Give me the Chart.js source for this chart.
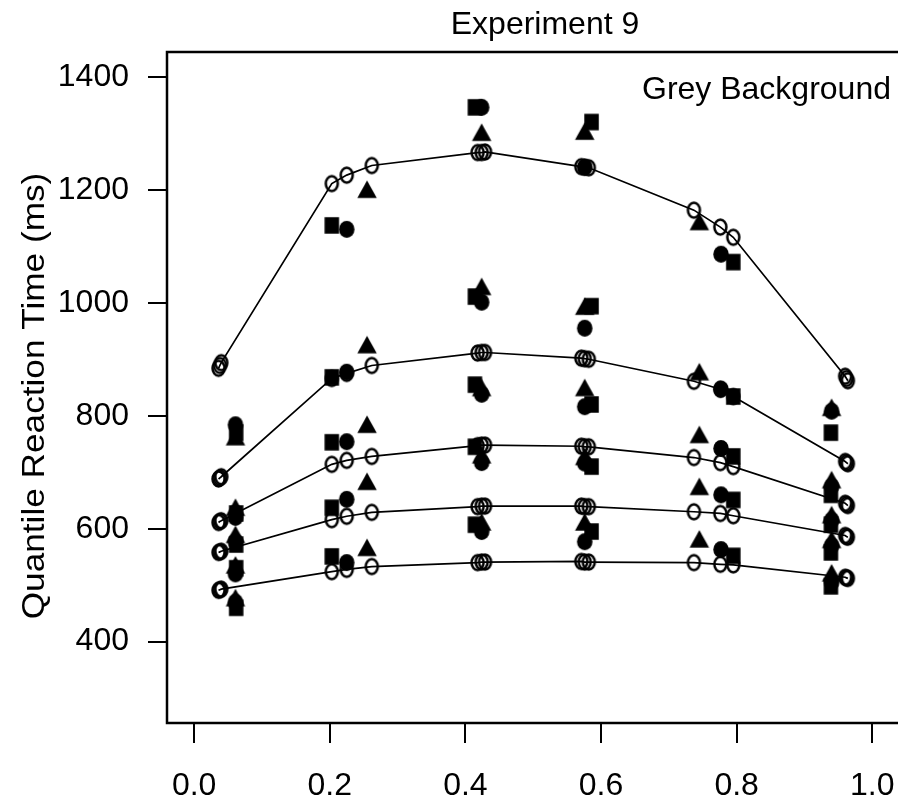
<!DOCTYPE html>
<html><head><meta charset="utf-8">
<script src="https://cdn.jsdelivr.net/npm/chart.js@4/dist/chart.umd.min.js"></script>
<style>
html,body{margin:0;padding:0;background:#fff;overflow:hidden;}
#wrap{width:898px;height:807px;overflow:hidden;position:relative;background:#fff;}
canvas{display:block;}
</style></head><body>
<div id="wrap"><canvas id="c" width="930" height="807"></canvas></div>
<script>
// ---- text ----
const chartTitle = 'Experiment 9';
const panelLabel = 'Grey Background';
const yAxisTitle = 'Quantile Reaction Time (ms)';
const xTickValues = [0.0, 0.2, 0.4, 0.6, 0.8, 1.0];
const yTickValues = [400, 600, 800, 1000, 1200, 1400];

// ---- model predictions (open circles joined by lines), x = response proportion ----
const modelX  = [0.036, 0.038, 0.040, 0.203, 0.225, 0.262, 0.418, 0.424, 0.429,
                 0.571, 0.576, 0.582, 0.737, 0.776, 0.795, 0.960, 0.962, 0.964];
const modelQ1 = [491, 492, 493, 524, 528, 533, 540, 541, 541, 542, 541, 541, 540, 537, 536, 514, 513, 512];
const modelQ3 = [558, 559, 560, 616, 622, 629, 639, 640, 640, 640, 639, 639, 630, 627, 623, 588, 586, 585];
const modelQ5 = [611, 613, 614, 714, 721, 728, 747, 748, 748, 746, 745, 745, 726, 717, 710, 645, 643, 641];
const modelQ7 = [688, 690, 692, 866, 875, 889, 911, 912, 912, 902, 901, 900, 861, 847, 834, 719, 717, 715];
const modelQ9 = [884, 889, 894, 1211, 1226, 1243, 1266, 1266, 1267, 1241, 1240, 1239, 1164, 1134, 1116, 870, 866, 862];

// ---- data (filled symbols) ----
const squareX   = [0.062, 0.203, 0.414, 0.586, 0.795, 0.939];
const squareQ1  = [460, 551, 607, 595, 552, 498];
const squareQ3  = [530, 637, 745, 710, 651, 558];
const squareQ5  = [572, 753, 855, 820, 728, 607];
const squareQ7  = [627, 868, 1011, 994, 834, 660];
const squareQ9  = [770, 1137, 1346, 1320, 1072, 770];

const circleX   = [0.061, 0.225, 0.424, 0.576, 0.777, 0.940];
const circleQ1  = [470, 540, 595, 577, 563, 505];
const circleQ3  = [520, 652, 717, 716, 660, 570];
const circleQ5  = [577, 754, 838, 816, 742, 615];
const circleQ7  = [620, 877, 1001, 955, 847, 675];
const circleQ9  = [784, 1130, 1346, 1240, 1086, 808];

const triangleX  = [0.061, 0.255, 0.424, 0.576, 0.745, 0.940];
const triangleQ1 = [478, 567, 612, 612, 582, 522];
const triangleQ3 = [536, 684, 731, 728, 675, 581];
const triangleQ5 = [590, 785, 850, 850, 767, 625];
const triangleQ7 = [638, 926, 1029, 994, 878, 687];
const triangleQ9 = [763, 1201, 1302, 1304, 1144, 815];

const FONT = '"Liberation Sans", Arial, Helvetica, sans-serif';

// marker glyphs (slightly taller than wide, as in the reference)
function marker(kind, w, h, lw){
  const pad = 2;
  const cw = Math.ceil(w + 2*pad), ch = Math.ceil(h + 2*pad);
  const cv = document.createElement('canvas');
  cv.width = cw; cv.height = ch;
  const g = cv.getContext('2d');
  const cx = cw/2, cy = ch/2;
  g.fillStyle = '#000'; g.strokeStyle = '#000';
  g.beginPath();
  if (kind === 'openCircle'){
    g.lineWidth = lw;
    g.ellipse(cx, cy, (w - lw)/2, (h - lw)/2, 0, 0, Math.PI*2);
    g.stroke();
  } else if (kind === 'circle'){
    g.ellipse(cx, cy, w/2, h/2, 0, 0, Math.PI*2);
    g.fill();
  } else if (kind === 'square'){
    g.rect(cx - w/2, cy - h/2, w, h);
    g.fill();
  } else if (kind === 'triangle'){
    g.moveTo(cx, cy - h/2);
    g.lineTo(cx + w/2, cy + h/2);
    g.lineTo(cx - w/2, cy + h/2);
    g.closePath();
    g.fill();
  }
  return cv;
}
const openMark = marker('openCircle', 14.5, 17.5, 2.5);
const circMark = marker('circle', 15.5, 17, 0);
const sqMark   = marker('square', 14.5, 16.5, 0);
const triMark  = marker('triangle', 19.5, 17.5, 0);

function pts(xs, ys){ return xs.map((x,i)=>({x:x, y:ys[i]})); }

const datasets = [];
[modelQ1, modelQ3, modelQ5, modelQ7, modelQ9].forEach(q => {
  datasets.push({
    data: pts(modelX, q), showLine: true, borderColor: '#000', borderWidth: 1.7,
    pointStyle: openMark, pointRadius: 8, tension: 0
  });
});
function filled(xs, q, img){
  datasets.push({ data: pts(xs, q), showLine: false, pointStyle: img, pointRadius: 8 });
}
[squareQ1, squareQ3, squareQ5, squareQ7, squareQ9].forEach(q => filled(squareX, q, sqMark));
[circleQ1, circleQ3, circleQ5, circleQ7, circleQ9].forEach(q => filled(circleX, q, circMark));
[triangleQ1, triangleQ3, triangleQ5, triangleQ7, triangleQ9].forEach(q => filled(triangleX, q, triMark));

const deco = {
  id: 'deco',
  afterDraw(chart){
    const ctx = chart.ctx, a = chart.chartArea;
    ctx.save();
    ctx.strokeStyle = '#000'; ctx.lineWidth = 2.5;
    ctx.strokeRect(a.left, a.top, a.right - a.left, a.bottom - a.top);
    ctx.fillStyle = '#000';
    ctx.font = '32px ' + FONT;
    ctx.textBaseline = 'alphabetic';
    ctx.textAlign = 'center';
    ctx.fillText(chartTitle, 545, 34);
    ctx.textAlign = 'right';
    ctx.fillText(panelLabel, 891, 99);
    ctx.translate(44, 396);
    ctx.rotate(-Math.PI/2);
    ctx.scale(1.1, 1);
    ctx.textAlign = 'center';
    ctx.fillText(yAxisTitle, 0, 0);
    ctx.restore();
  }
};

new Chart(document.getElementById('c'), {
  type: 'scatter',
  data: { datasets },
  plugins: [deco],
  options: {
    responsive: false, animation: false,
    layout: { padding: { top: 52, right: 30.6, left: 0, bottom: 0 } },
    plugins: { legend: { display: false }, tooltip: { enabled: false }, title: { display: false } },
    scales: {
      x: {
        type: 'linear', min: -0.04, max: 1.04,
        afterFit(s){ s.height = 84; },
        afterBuildTicks(s){ s.ticks = xTickValues.map(v => ({value: v})); },
        border: { display: false },
        grid: { drawOnChartArea: false, color: '#000', lineWidth: 2, tickLength: 20, tickWidth: 2 },
        ticks: { color: '#000', font: { size: 32, family: FONT }, padding: 24, maxRotation: 0,
                 callback: v => v.toFixed(1) }
      },
      y: {
        type: 'linear', min: 256, max: 1444,
        afterFit(s){ s.width = 167; },
        afterBuildTicks(s){ s.ticks = yTickValues.map(v => ({value: v})); },
        border: { display: false },
        grid: { drawOnChartArea: false, color: '#000', lineWidth: 2, tickLength: 19, tickWidth: 2 },
        ticks: { color: '#000', font: { size: 32, family: FONT }, padding: 19,
                 callback: v => String(v) }
      }
    }
  }
});
</script>
</body></html>
